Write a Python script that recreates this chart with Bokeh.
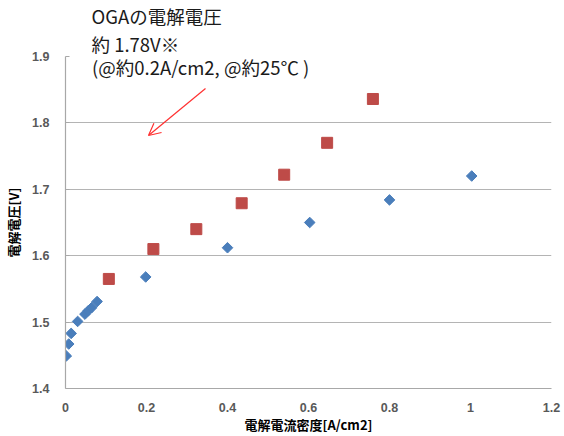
from bokeh.plotting import figure
from bokeh.models import Label, Arrow, OpenHead, FixedTicker, Range1d, Title
from bokeh.embed import file_html
from bokeh.resources import INLINE
import numpy as np

# Data
blue_x = [0.002, 0.008, 0.014, 0.030, 0.048, 0.056, 0.065, 0.078, 0.198, 0.400, 0.603, 0.800, 1.003]
blue_y = [1.449, 1.467, 1.483, 1.501, 1.512, 1.517, 1.522, 1.531, 1.568, 1.612, 1.650, 1.684, 1.720]
red_x = [0.107, 0.217, 0.323, 0.435, 0.540, 0.646, 0.759]
red_y = [1.565, 1.610, 1.640, 1.679, 1.722, 1.770, 1.836]

x_ticks = [0, 0.2, 0.4, 0.6, 0.8, 1.0, 1.2]
x_tick_labels = ["0", "0.2", "0.4", "0.6", "0.8", "1", "1.2"]
y_ticks = [1.4, 1.5, 1.6, 1.7, 1.8, 1.9]
y_tick_labels = ["1.4", "1.5", "1.6", "1.7", "1.8", "1.9"]

x_title = "電解電流密度[A/cm2]"
y_title = "電解電圧[V]"
note_lines = ["OGAの電解電圧", "約 1.78V※", "(@約0.2A/cm2, @約25℃ )"]
arrow_tail = (0.3457, 1.8518)
arrow_head = (0.2049, 1.7810)

JP = "Noto Sans CJK JP"

p = figure(width=564, height=436, output_backend="svg", toolbar_location=None,
           x_range=Range1d(0, 1.2), y_range=Range1d(1.4, 1.9),
           min_border_left=65, min_border_top=56, min_border_right=13, min_border_bottom=48)
p.outline_line_color = None
p.background_fill_color = "white"
p.border_fill_color = "white"

p.xgrid.grid_line_color = None
p.ygrid.grid_line_color = "#b4b4b4"
p.ygrid.grid_line_width = 1.2
p.ygrid.ticker = FixedTicker(ticks=y_ticks)

p.xaxis.ticker = FixedTicker(ticks=x_ticks)
p.yaxis.ticker = FixedTicker(ticks=y_ticks)
p.xaxis.major_label_overrides = dict(zip(x_ticks, x_tick_labels))
p.yaxis.major_label_overrides = dict(zip(y_ticks, y_tick_labels))

for ax in (p.xaxis, p.yaxis):
    ax.axis_line_color = "#a8a8a8"
    ax.axis_line_width = 1.2
    ax.minor_tick_line_color = None
    ax.minor_tick_in = 0
    ax.minor_tick_out = 0
    ax.major_label_text_color = "#595959"
    ax.major_label_text_font = "Liberation Sans"
    ax.major_label_text_font_style = "bold"
    ax.major_label_text_font_size = "12.5px"
    ax.axis_label_text_font = JP
    ax.axis_label_text_font_style = "bold"
    ax.axis_label_text_font_size = "13px"
    ax.axis_label_text_color = "black"

p.xaxis.major_tick_line_color = None
p.xaxis.major_tick_in = 0
p.xaxis.major_tick_out = 0
p.xaxis.major_label_standoff = 14
p.xaxis.axis_label = x_title
p.xaxis.axis_label_standoff = 0

p.yaxis.major_tick_line_color = "#a8a8a8"
p.yaxis.major_tick_in = 4
p.yaxis.major_tick_out = 0
p.yaxis.major_label_standoff = 16
p.yaxis.axis_label = y_title
p.yaxis.axis_label_standoff = 6

p.scatter(blue_x, blue_y, marker="square", angle=np.pi / 4, size=7.5,
          fill_color="#4a7ebb", line_color="#4a7ebb")
p.scatter(red_x, red_y, marker="square", size=11,
          fill_color="#be4b48", line_color="#be4b48")

# annotation note: first two lines above the frame, third line inside it (white box hides the 1.9 grid line)
NOTE_FONT = "18.5px"
p.add_layout(Title(text=note_lines[1], align="left", offset=26, standoff=0, text_font=JP,
                   text_font_size=NOTE_FONT, text_font_style="normal", text_color="#1a1a1a"), "above")
p.add_layout(Title(text=note_lines[0], align="left", offset=26, standoff=0, text_font=JP,
                   text_font_size=NOTE_FONT, text_font_style="normal", text_color="#1a1a1a"), "above")
p.add_layout(Label(x=0.058, y=1.8761, text=note_lines[2], text_font=JP, text_font_size=NOTE_FONT,
                   text_color="#1a1a1a", text_baseline="middle",
                   background_fill_color="white", padding=(3, 20, 3, 14)))

p.add_layout(Arrow(x_start=arrow_tail[0], y_start=arrow_tail[1], x_end=arrow_head[0], y_end=arrow_head[1],
                   line_color="#ff3030", line_width=1.2,
                   end=OpenHead(size=12, line_color="#ff3030", line_width=1.2)))

open("out.html", "w").write(file_html(p, INLINE))
